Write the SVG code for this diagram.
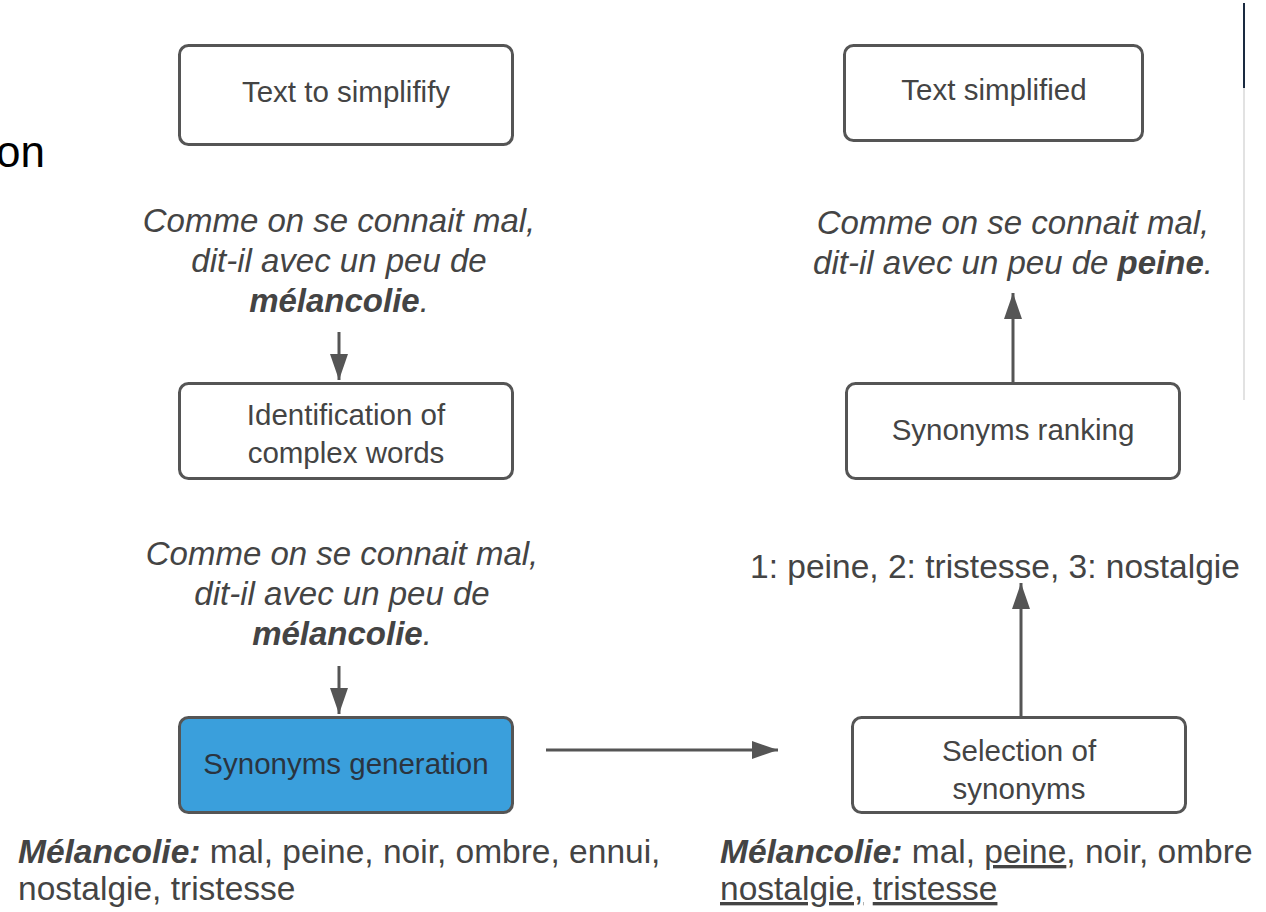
<svg xmlns="http://www.w3.org/2000/svg" width="1266" height="912" viewBox="0 0 1266 912">
<defs>
<style>
.box{fill:#fff;stroke:#555;stroke-width:3}
.blue{fill:#3a9fdc;stroke:#555;stroke-width:3}
.bt{font-family:"Liberation Sans",Arial,sans-serif;font-size:29.500px;fill:#444;text-anchor:middle}
.it{font-family:"Liberation Sans",Arial,sans-serif;font-size:33px;font-style:italic;fill:#444;text-anchor:middle}
.rt{font-family:"Liberation Sans",Arial,sans-serif;font-size:33.500px;fill:#444}
.b{font-weight:bold}
.conn{stroke:#555;stroke-width:3;fill:none}
</style>
<marker id="ah" viewBox="0 0 26 18" refX="26" refY="9" markerWidth="26" markerHeight="18" markerUnits="userSpaceOnUse" orient="auto">
<path d="M0,0 L26,9 L0,18 Z" fill="#555"/>
</marker>
</defs>
<rect width="1266" height="912" fill="#fff"/>
<text x="-4" y="167" font-family="'Liberation Sans',Arial,sans-serif" font-size="44" fill="#000">on</text>
<line x1="1244" y1="3" x2="1244" y2="88" stroke="#1a2a40" stroke-width="2"/>
<line x1="1244" y1="88" x2="1244" y2="400" stroke="#e2e2e2" stroke-width="2"/>

<g id="connectors">
<line class="conn" x1="339" y1="332" x2="339" y2="380" marker-end="url(#ah)"/>
<line class="conn" x1="339" y1="666" x2="339" y2="714" marker-end="url(#ah)"/>
<line class="conn" x1="546" y1="750" x2="778" y2="750" marker-end="url(#ah)"/>
<line class="conn" x1="1021" y1="716" x2="1021" y2="583" marker-end="url(#ah)"/>
<line class="conn" x1="1013" y1="382" x2="1013" y2="293" marker-end="url(#ah)"/>
</g>

<g id="text-to-simplify">
<rect class="box" x="179.500" y="45.500" width="333" height="99" rx="9"/>
<text class="bt" x="346" y="102">Text to simplifify</text>
</g>
<g id="sentence-1">
<text class="it" x="339" y="232">Comme on se connait mal,</text>
<text class="it" x="339" y="272">dit-il avec un peu de</text>
<text class="it" x="339" y="312"><tspan class="b">mélancolie</tspan>.</text>
</g>
<g id="identification">
<rect class="box" x="179.500" y="383.500" width="333" height="95" rx="9"/>
<text class="bt" x="346" y="425">Identification of</text>
<text class="bt" x="346" y="463">complex words</text>
</g>
<g id="sentence-2">
<text class="it" x="342" y="565">Comme on se connait mal,</text>
<text class="it" x="342" y="605">dit-il avec un peu de</text>
<text class="it" x="342" y="645"><tspan class="b">mélancolie</tspan>.</text>
</g>
<g id="synonyms-generation">
<rect class="blue" x="179.500" y="717.500" width="333" height="95" rx="9"/>
<text class="bt" x="346" y="774" style="fill:#2a3440">Synonyms generation</text>
</g>
<g id="list-left">
<text class="rt" x="18" y="863"><tspan class="b" font-style="italic">Mélancolie:</tspan> mal, peine, noir, ombre, ennui,</text>
<text class="rt" x="18" y="900">nostalgie, tristesse</text>
</g>
<g id="text-simplified">
<rect class="box" x="844.500" y="45.500" width="298" height="95" rx="9"/>
<text class="bt" x="994" y="100">Text simplified</text>
</g>
<g id="sentence-3">
<text class="it" x="1013" y="234">Comme on se connait mal,</text>
<text class="it" x="1013" y="274">dit-il avec un peu de <tspan class="b">peine</tspan>.</text>
</g>
<g id="synonyms-ranking">
<rect class="box" x="846.500" y="383.500" width="333" height="95" rx="9"/>
<text class="bt" x="1013" y="440">Synonyms ranking</text>
</g>
<g id="ranking-result">
<text class="rt" x="995" y="578" text-anchor="middle">1: peine, 2: tristesse, 3: nostalgie</text>
</g>
<g id="selection">
<rect class="box" x="852.500" y="717.500" width="333" height="95" rx="9"/>
<text class="bt" x="1019" y="761">Selection of</text>
<text class="bt" x="1019" y="799">synonyms</text>
</g>
<g id="list-right">
<text class="rt" x="720" y="863"><tspan class="b" font-style="italic">Mélancolie:</tspan> mal, <tspan text-decoration="underline">peine</tspan>, noir, ombre</text>
<text class="rt" x="720" y="900"><tspan text-decoration="underline">nostalgie,</tspan> <tspan text-decoration="underline">tristesse</tspan></text>
</g>
</svg>
